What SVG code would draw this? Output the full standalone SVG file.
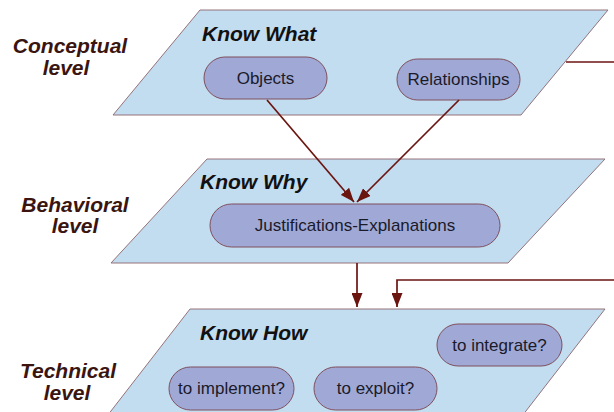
<svg xmlns="http://www.w3.org/2000/svg" width="614" height="412" viewBox="0 0 614 412">
<style>
.plane{fill:#c2dcf0;stroke:#94737a;stroke-width:1}
.pill{fill:#a0a9d6;stroke:#7e4f5c;stroke-width:1}
.ptxt{font-family:"Liberation Sans",Arial,sans-serif;font-size:17px;fill:#1a1a2a;text-anchor:middle}
.head{font-family:"Liberation Sans",Arial,sans-serif;font-size:21px;font-weight:bold;font-style:italic;fill:#111}
.lvl{font-family:"Liberation Sans",Arial,sans-serif;font-size:21px;font-weight:bold;font-style:italic;fill:#3a1510;text-anchor:middle}
.conn{fill:none;stroke:#6b1510;stroke-width:1.7}
</style>
<defs>
<marker id="ah" viewBox="0 0 14 11" refX="14" refY="5.5" markerWidth="14" markerHeight="11" markerUnits="userSpaceOnUse" orient="auto">
<path d="M0,0 L14,5.5 L0,11 Z" fill="#6b1510"/>
</marker>
</defs>
<rect width="614" height="412" fill="#fff"/>

<g id="label-conceptual">
<text class="lvl" x="70" y="53">Conceptual</text>
<text class="lvl" x="66" y="75">level</text>
</g>
<g id="label-behavioral">
<text class="lvl" x="75" y="212">Behavioral</text>
<text class="lvl" x="75" y="233">level</text>
</g>
<g id="label-technical">
<text class="lvl" x="68" y="378">Technical</text>
<text class="lvl" x="67" y="400">level</text>
</g>

<g id="plane-what">
<polygon class="plane" points="200,10 608,10 521,115 113,115"/>
<text class="head" x="202" y="41">Know What</text>
</g>
<g id="plane-why">
<polygon class="plane" points="207,159 605,159 508,263 111,263"/>
<text class="head" x="200" y="189">Know Why</text>
</g>
<g id="plane-how">
<polygon class="plane" points="190,309 605,309 519,420 104,420"/>
<text class="head" x="200" y="340">Know How</text>
</g>

<g id="node-objects">
<rect class="pill" x="204" y="57" width="123" height="42" rx="21"/>
<text class="ptxt" x="265.5" y="84">Objects</text>
</g>
<g id="node-relationships">
<rect class="pill" x="397" y="59" width="123" height="41" rx="20.5"/>
<text class="ptxt" x="458.5" y="85">Relationships</text>
</g>
<g id="node-justifications">
<rect class="pill" x="210" y="204" width="290" height="43" rx="21.5"/>
<text class="ptxt" x="355" y="231">Justifications-Explanations</text>
</g>
<g id="node-integrate">
<rect class="pill" x="437" y="324" width="125" height="42" rx="21"/>
<text class="ptxt" x="499.5" y="351">to integrate?</text>
</g>
<g id="node-implement">
<rect class="pill" x="169" y="367" width="125" height="43" rx="21.5"/>
<text class="ptxt" x="231.5" y="394">to implement?</text>
</g>
<g id="node-exploit">
<rect class="pill" x="314" y="367" width="123" height="43" rx="21.5"/>
<text class="ptxt" x="375.5" y="394">to exploit?</text>
</g>

<g id="connectors">
<line class="conn" x1="267" y1="100" x2="354" y2="202" marker-end="url(#ah)"/>
<line class="conn" x1="459" y1="100" x2="357" y2="202" marker-end="url(#ah)"/>
<line class="conn" x1="566" y1="62" x2="614" y2="62"/>
<line class="conn" x1="357" y1="263" x2="357" y2="307" marker-end="url(#ah)"/>
<polyline class="conn" points="614,280 397,280 397,307" marker-end="url(#ah)"/>
</g>
</svg>
